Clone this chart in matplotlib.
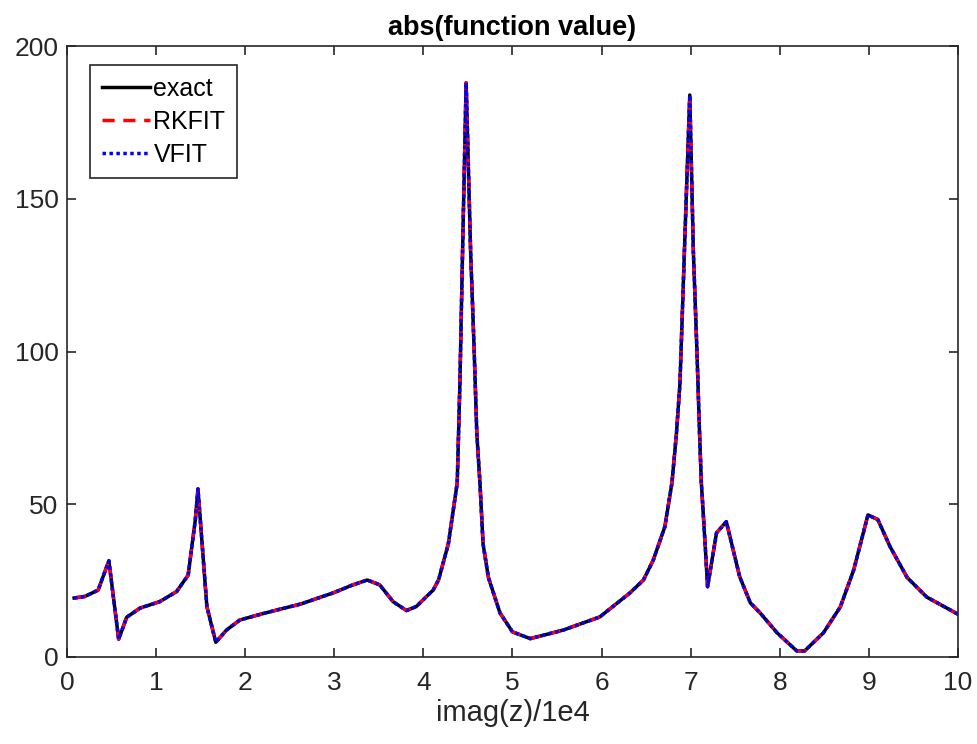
import matplotlib.pyplot as plt
import numpy as np

plt.rcParams['font.family'] = ['Liberation Sans', 'DejaVu Sans']

x = [0.08, 0.2, 0.35, 0.47, 0.58, 0.67, 0.82, 1.04, 1.23, 1.36, 1.44, 1.47,
     1.57, 1.67, 1.79, 1.94, 2.2, 2.4, 2.62, 2.99, 3.2, 3.37, 3.51, 3.66,
     3.81, 3.92, 4.11, 4.17, 4.28, 4.38, 4.41, 4.44, 4.48, 4.53, 4.57, 4.60,
     4.635, 4.67, 4.73, 4.86, 5.0, 5.2, 5.57, 5.98, 6.32, 6.47, 6.58, 6.71,
     6.79, 6.84, 6.88, 6.93, 6.99, 7.03, 7.07, 7.10, 7.12, 7.16, 7.19, 7.29,
     7.40, 7.55, 7.67, 7.78, 7.97, 8.19, 8.28, 8.49, 8.68, 8.83, 8.99, 9.1,
     9.24, 9.43, 9.65, 10.0]
exact = [19.3, 19.8, 21.9, 31.5, 5.8, 13.0, 16.0, 18.1, 21.4, 26.8, 44.8, 55,
         16.5, 4.8, 8.8, 12.1, 14.2, 15.7, 17.3, 21.0, 23.5, 25.2, 23.6, 18.1,
         15.2, 16.5, 21.9, 25.2, 37, 57, 89.6, 133, 188, 133, 100.5, 73,
         57, 37, 26, 14.4, 8.2, 6.0, 8.8, 13.1, 21, 25.2, 31.7, 42.6,
         57, 73, 89.6, 133, 184, 133, 100.5, 73, 57, 38, 23, 40.6,
         44.3, 26.3, 17.7, 14.4, 7.9, 2.0, 2.0, 7.9, 16.4, 28.5, 46.5, 45,
         36, 26, 19.6, 14.0]
rkfit = exact
vfit = exact

fig = plt.figure(figsize=(9.78, 7.44), dpi=100)
ax = fig.add_axes([0.0685, 0.117, 0.911, 0.821])

ax.plot(x, exact, color='black', lw=2.5, label='exact')
ax.plot(x, rkfit, color='red', lw=2.5, ls=(0, (3.5, 2.5)), label='RKFIT')
ax.plot(x, vfit, color='blue', lw=2.5, ls=(0, (1, 1)), label='VFIT')

ax.set_xlim(0, 10)
ax.set_ylim(0, 200)
ax.set_xticks(range(0, 11))
ax.set_yticks([0, 50, 100, 150, 200])
ax.tick_params(direction='in', top=True, right=True, labelsize=19,
               length=6.5, width=1.2, colors='#262626')
ax.tick_params(axis='x', pad=10)
ax.tick_params(axis='y', pad=6)
for s in ax.spines.values():
    s.set_color('#262626')
    s.set_linewidth(1.2)
ax.set_xlabel('imag(z)/1e4', fontsize=21, color='#262626', labelpad=3)
ax.set_title('abs(function value)', fontsize=19.5, fontweight='bold', pad=8)

leg = ax.legend(loc='upper left', fontsize=18, fancybox=False, framealpha=1,
                edgecolor='#262626', handlelength=1.95, handletextpad=0.12,
                borderpad=0.46, labelspacing=0.36, borderaxespad=0,
                bbox_to_anchor=(0.026, 0.969))
leg.get_frame().set_linewidth(1.2)

fig.savefig('out.png', dpi=100)
